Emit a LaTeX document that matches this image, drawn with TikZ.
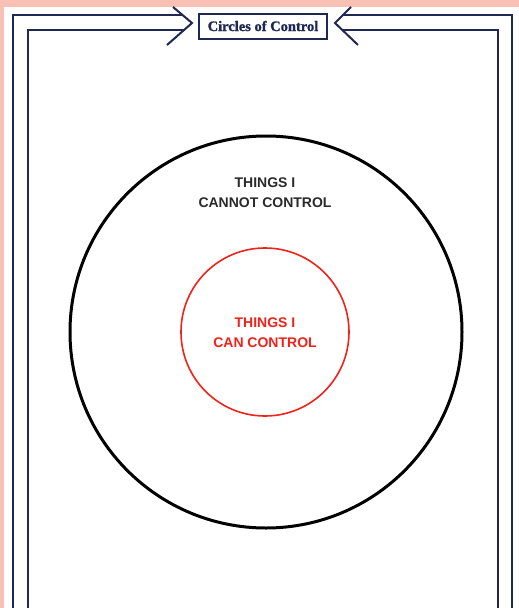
\documentclass[tikz,border=0pt]{standalone}
\usepackage{fontspec}
\setmainfont{Liberation Serif}
\setsansfont{Liberation Sans}
\newfontfamily\platefont{Liberation Serif Bold}[FakeBold=1.2]
\begin{document}
\definecolor{peach}{HTML}{F9C1B4}
\definecolor{navy}{HTML}{1F2852}
\definecolor{ink}{HTML}{2A2A2A}
\definecolor{alert}{HTML}{F0221A}
\begin{tikzpicture}[x=1pt,y=-1pt,
  frame/.style={draw=navy,line width=2pt,line join=miter},
  label/.style={font=\sffamily\bfseries\fontsize{14}{20}\selectfont,align=center,inner sep=0pt}]
\useasboundingbox (0,0) rectangle (519,608);
% paper on a peach background
\fill[peach] (0,0) rectangle (519,608);
\fill[white] (4,7) rectangle (519,608);
% double border, left half
\draw[frame] (182,15) -- (13,15) -- (13,608);
\draw[frame] (185,30) -- (28,30) -- (28,608);
\draw[frame] (173,7) -- (192,23) -- (167,45);
% double border, right half
\draw[frame] (343,15) -- (512,15) -- (512,608);
\draw[frame] (342,30) -- (498,30) -- (498,608);
\draw[frame] (351,7) -- (335,23) -- (358,45);
% title plate
\node[draw=navy,line width=2pt,fill=white,minimum width=128pt,minimum height=25pt,inner sep=0pt,
  font=\platefont\fontsize{14.5}{16}\selectfont,text=navy] (title) at (263,26) {Circles of Control};
% circles
\node[circle,draw=black,line width=3pt,minimum size=392pt,inner sep=0pt] (outer) at (266,332) {};
\node[circle,draw=alert,line width=1.6pt,minimum size=168pt,inner sep=0pt] (inner) at (265,332) {};
% labels
\node[label,text=ink] (cannot) at (265,193) {THINGS I\\CANNOT CONTROL};
\node[label,text=alert] (can) at (265,333) {THINGS I\\CAN CONTROL};
\end{tikzpicture}
\end{document}
